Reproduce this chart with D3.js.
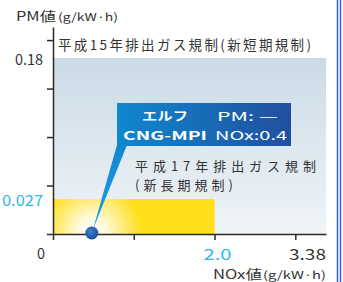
<!DOCTYPE html>
<html>
<head>
<meta charset="utf-8">
<script src="https://cdn.jsdelivr.net/npm/d3@7"></script>
<style>
  body { margin: 0; background: #fff; }
  text { font-family: "Noto Sans CJK JP", "Noto Sans", sans-serif; }
</style>
</head>
<body>
<div id="grafico"></div>
<script>
// dados
const regulamentos = ["平成15年排出ガス規制(新短期規制)", "平成17年排出ガス規制"];
const noxLimites = [3.38, 2.0];
const pmLimites = [0.18, 0.027];
const ponto = { nome: ["エルフ", "CNG-MPI"], nox: 0.48, pm: 0 };
const pontoTexto = ["PM: —", "NOx:0.4"];
const xTickLabels = ["0", "", "2.0", "3.38"];
const yTickLabels = ["0.18", "0.027"];

const W = 343, H = 282;
const x0 = 53, y0 = 234;

const svg = d3.select("#grafico").append("svg")
    .attr("width", W)
    .attr("height", H);

const defs = svg.append("defs");

// escala das marcas do eixo (espaçamento regular)
const xTick = d3.scaleLinear().domain([0, 3.38]).range([x0, 326]);
const yTick = d3.scaleLinear().domain([0, 4.27]).range([y0, 27]);

// escala dos valores (eixo partido, esquemático)
const x = d3.scaleLinear().domain([0, 2.0, 3.38]).range([xTick(0), xTick(2), xTick(3)]);
const y = d3.scaleLinear().domain([0, 0.027, 0.18]).range([y0, 199, 58]);

// gradientes
const gAzul = defs.append("linearGradient").attr("id", "gAzul")
    .attr("x1", 0).attr("y1", 0).attr("x2", 0).attr("y2", 1);
gAzul.append("stop").attr("offset", "0").attr("stop-color", "#cadbe7");
gAzul.append("stop").attr("offset", "1").attr("stop-color", "#f0f4f7");

const px = x(ponto.nox), py = y(ponto.pm);

const gAmarelo = defs.append("radialGradient").attr("id", "gAmarelo")
    .attr("gradientUnits", "userSpaceOnUse")
    .attr("cx", px).attr("cy", py - 2).attr("r", 50);
gAmarelo.append("stop").attr("offset", "0").attr("stop-color", "#ffffff");
gAmarelo.append("stop").attr("offset", "0.25").attr("stop-color", "#fffbe4");
gAmarelo.append("stop").attr("offset", "1").attr("stop-color", "#ffdf1a");

const gCaixa = defs.append("linearGradient").attr("id", "gCaixa")
    .attr("x1", 0).attr("y1", 0).attr("x2", 1).attr("y2", 0);
gCaixa.append("stop").attr("offset", "0").attr("stop-color", "#0f88cf");
gCaixa.append("stop").attr("offset", "1").attr("stop-color", "#214f9e");

const gSeta = defs.append("linearGradient").attr("id", "gSeta")
    .attr("x1", 0).attr("y1", 0).attr("x2", 0).attr("y2", 1);
gSeta.append("stop").attr("offset", "0").attr("stop-color", "#1286d0");
gSeta.append("stop").attr("offset", "1").attr("stop-color", "#1aa0e6");

const gPonto = defs.append("radialGradient").attr("id", "gPonto")
    .attr("cx", 0.4).attr("cy", 0.35).attr("r", 0.7);
gPonto.append("stop").attr("offset", "0").attr("stop-color", "#3f7fd0");
gPonto.append("stop").attr("offset", "1").attr("stop-color", "#14489a");

// áreas dos regulamentos
svg.append("rect")
    .attr("x", x(0))
    .attr("y", y(pmLimites[0]))
    .attr("width", xTick.range()[1] - x(0))
    .attr("height", y(0) - y(pmLimites[0]))
    .attr("fill", "url(#gAzul)");

svg.append("rect")
    .attr("x", x(0))
    .attr("y", y(pmLimites[1]))
    .attr("width", x(noxLimites[1]) - x(0))
    .attr("height", y(0) - y(pmLimites[1]))
    .attr("fill", "url(#gAmarelo)");

// eixos
const cor = "#2a2a2a";
const eixoY = svg.append("g")
    .attr("transform", "translate(" + x0 + ",0)")
    .call(d3.axisLeft(yTick).tickValues([0, 1, 2, 3, 4]).tickSize(6).tickSizeOuter(0).tickFormat(""));
const eixoX = svg.append("g")
    .attr("transform", "translate(0," + y0 + ")")
    .call(d3.axisBottom(xTick).tickValues([0, 1, 2, 3]).tickSize(6).tickSizeOuter(0).tickFormat(""));
[eixoY, eixoX].forEach(g => {
    g.selectAll("path, line").attr("stroke", cor).attr("stroke-width", 1.5);
});

// rótulos
function texto(t, xx, yy, tam, larg, fill, anchor, adj) {
    const el = svg.append("text")
        .attr("x", xx).attr("y", yy)
        .attr("font-size", tam)
        .attr("fill", fill || "#333")
        .attr("text-anchor", anchor || "start")
        .text(t);
    if (larg) el.attr("textLength", larg).attr("lengthAdjust", adj || "spacingAndGlyphs");
    return el;
}

texto("PM値", 16, 21, 13, 40);
texto("(g/kW·h)", 58, 21, 11, 60);

texto(yTickLabels[0], 43, 65, 15, 28, "#333", "end");
texto(yTickLabels[1], 43, 206, 15, 41, "#2bb9ef", "end");

texto(xTickLabels[0], 37, 259, 15, 8);
texto(xTickLabels[2], xTick(2) + 3, 260, 15, 28, "#2bb9ef", "middle");
texto(xTickLabels[3], 326, 260, 15, 37, "#333", "end");

texto("NOx値", 213, 279, 13, 49);
texto("(g/kW·h)", 263, 279, 11, 63);

// títulos dos regulamentos
texto(regulamentos[0], 58, 50, 13.5, 253, "#333", "start", "spacing");
texto(regulamentos[1], 135, 171, 13, 181, "#333", "start", "spacing");
texto("(新長期規制)", 135, 190, 13, 98, "#333", "start", "spacing");

// balão
const caixa = { x: 117, y: 103, w: 174, h: 43 };
svg.append("path")
    .attr("d", "M" + caixa.x + "," + (caixa.y + caixa.h - 1) +
        " L" + (caixa.x + 10) + "," + (caixa.y + caixa.h - 1) +
        " L" + (px + 1) + "," + (py - 4) + " Z")
    .attr("fill", "url(#gSeta)");

svg.append("rect")
    .attr("x", caixa.x).attr("y", caixa.y)
    .attr("width", caixa.w).attr("height", caixa.h)
    .attr("fill", "url(#gCaixa)");

texto(ponto.nome[0], 142, 121, 12, 46, "#fff").attr("font-weight", "bold");
texto(ponto.nome[1], 123, 140, 12, 84, "#fff").attr("font-weight", "bold");
texto(pontoTexto[0], 217, 121, 12, 61, "#fff");
texto(pontoTexto[1], 215, 140, 12, 72, "#fff");

// ponto
svg.append("circle")
    .attr("cx", px).attr("cy", py - 1)
    .attr("r", 6.5)
    .attr("fill", "url(#gPonto)");

// moldura à direita
[337.5, 340.5].forEach(lx => {
    svg.append("line")
        .attr("x1", lx).attr("x2", lx)
        .attr("y1", 0).attr("y2", H)
        .attr("stroke", "#3a5cf0")
        .attr("stroke-width", 1.5);
});
</script>
</body>
</html>
